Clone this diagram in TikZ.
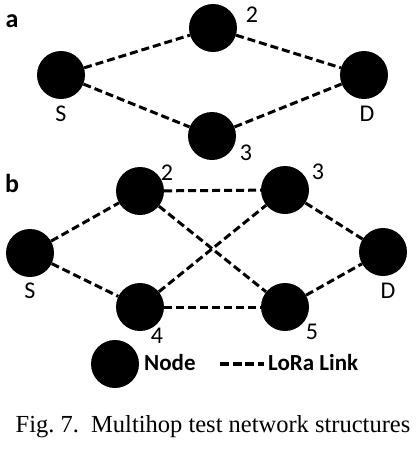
\documentclass[tikz,border=0pt]{standalone}
\usepackage{fontspec}
\setmainfont{Carlito}
\newfontfamily\capfont{Liberation Serif}
\tikzset{
    mote/.style={circle, fill=black, minimum size=48pt, inner sep=0pt},
    link/.style={line width=3pt, dash pattern=on 8pt off 4pt},
    tag/.style={font=\fontsize{24}{26}\selectfont, inner sep=0pt},
    panel/.style={font=\fontsize{26}{28}\selectfont\bfseries, inner sep=0pt},
    keytext/.style={font=\fontsize{23}{25}\selectfont\bfseries, inner sep=0pt}
}
\begin{document}
\begin{tikzpicture}[x=1pt, y=-1pt]
        \useasboundingbox (0,0) rectangle (419,464);

        % (a) two paths
        \node[panel] (pa) at (12, 21) {a};
        \node[mote] (Sa) at (61, 75) {};
        \node[mote] (Ta) at (213, 28) {};
        \node[mote] (Ha) at (212, 136) {};
        \node[mote] (Da) at (364, 75) {};
        \node[tag] (lSa) at (61, 114) {S};
        \node[tag] (lTa) at (252, 15) {2};
        \node[tag] (lHa) at (246, 153) {3};
        \node[tag] (lDa) at (367, 114) {D};

        \draw[link]
            (Sa) edge (Ta)
            (Ta) edge (Da)
            (Sa) edge (Ha)
            (Ha) edge (Da)
        ;

        % (b) crossed mesh
        \node[panel] (pb) at (12, 183) {b};
        \node[mote] (Sb) at (30, 253) {};
        \node[mote] (Tb) at (140, 191) {};
        \node[mote] (Hb) at (285, 190) {};
        \node[mote] (Fb) at (140, 307) {};
        \node[mote] (Vb) at (285, 307) {};
        \node[mote] (Db) at (383, 252) {};
        \node[tag] (lSb) at (30, 291) {S};
        \node[tag] (lTb) at (167, 173) {2};
        \node[tag] (lHb) at (318, 172) {3};
        \node[tag] (lFb) at (157, 336) {4};
        \node[tag] (lVb) at (312, 332) {5};
        \node[tag] (lDb) at (388, 291) {D};

        \draw[link]
            (Sb) edge (Tb)
            (Sb) edge (Fb)
            (Tb) edge (Hb)
            (Tb) edge (Vb)
            (Fb) edge (Hb)
            (Fb) edge (Vb)
            (Hb) edge (Db)
            (Vb) edge (Db)
        ;

        % legend
        \node[mote] (key) at (115, 364) {};
        \node[keytext, anchor=west] (keyN) at (144, 363) {Node};
        \coordinate (k1) at (220, 364);
        \coordinate (k2) at (264, 364);
        \draw[link, line width=3.5pt, dash pattern=on 9pt off 3.5pt] (k1) -- (k2);
        \node[keytext, anchor=west] (keyL) at (268, 363) {LoRa Link};

        \node[font=\capfont\fontsize{24.5}{26}\selectfont, inner sep=0pt] (cap) at (213, 427) {Fig.~7.\ \ Multihop test network structures};
    \end{tikzpicture}
\end{document}
